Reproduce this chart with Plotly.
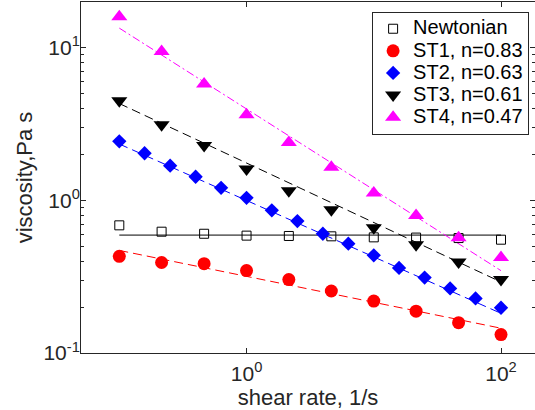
import numpy as np
import plotly.graph_objects as go

# ---- data ----
shear_rate_a = [0.1, 0.215, 0.464, 1.0, 2.15, 4.64, 10.0, 21.5, 46.4, 100.0]
shear_rate_b = [0.1, 0.158, 0.251, 0.398, 0.631, 1.0, 1.58, 2.51, 3.98, 6.31,
                10.0, 15.8, 25.1, 39.8, 63.1, 100.0]

newtonian = [0.687, 0.624, 0.605, 0.588, 0.585, 0.582, 0.573, 0.571, 0.567, 0.553]
st1 = [0.430, 0.392, 0.385, 0.347, 0.303, 0.255, 0.219, 0.188, 0.158, 0.132]
st2 = [2.44, 2.04, 1.69, 1.43, 1.21, 1.04, 0.861, 0.733, 0.605, 0.521,
       0.437, 0.361, 0.312, 0.265, 0.228, 0.198]
st3 = [4.50, 3.14, 2.29, 1.61, 1.16, 0.869, 0.663, 0.513, 0.395, 0.303]
st4 = [16.0, 9.46, 5.79, 3.65, 2.40, 1.65, 1.12, 0.798, 0.570, 0.422]

newtonian_viscosity_fit = 0.593
flow_index = [0.83, 0.63, 0.61, 0.47]          # n for ST1..ST4
consistency = [0.318, 1.00, 1.76, 3.98]        # K (Pa s^n) for ST1..ST4
fit_range = [0.1, 100.0]

legend_names = ["Newtonian", "ST1, n=0.83", "ST2, n=0.63", "ST3, n=0.61", "ST4, n=0.47"]
x_tick_vals = [1, 100]
x_tick_text = ["10<sup>0</sup>", "10<sup>2</sup>"]
y_tick_vals = [0.1, 1, 10]
y_tick_text = ["10<sup>-1</sup>", "10<sup>0</sup>", "10<sup>1</sup>"]

# ---- styling ----
FONT = "Liberation Sans, Arial, Helvetica, sans-serif"
AX = "#262626"
colors = ["black", "#FF0000", "#0000FF", "black", "#FF00FF"]
symbols = ["square-open", "circle", "diamond", "triangle-down", "triangle-up"]
sizes = [9, 13, 11, 14, 14]
dashes = ["9px,5px", "9px,5px", "9px,5px", "8px,3px,2px,3px"]

fig = go.Figure()

# fit lines (not in legend)
xf = np.array(fit_range)
fig.add_trace(go.Scatter(x=xf, y=[newtonian_viscosity_fit] * 2, mode="lines",
                         line=dict(color="black", width=1), showlegend=False,
                         hoverinfo="skip"))
for i in range(4):
    yf = consistency[i] * xf ** (flow_index[i] - 1)
    fig.add_trace(go.Scatter(x=xf, y=yf, mode="lines",
                             line=dict(color=colors[i + 1], width=1, dash=dashes[i]),
                             showlegend=False, hoverinfo="skip"))

# data markers
series = [(shear_rate_a, newtonian), (shear_rate_a, st1), (shear_rate_b, st2),
          (shear_rate_a, st3), (shear_rate_a, st4)]
for i, (xs, ys) in enumerate(series):
    marker = dict(symbol=symbols[i], size=sizes[i], color=colors[i])
    if i == 0:
        marker["line"] = dict(color="black", width=1)
    else:
        marker["line"] = dict(width=0)
    fig.add_trace(go.Scatter(x=xs, y=ys, mode="markers",
                             name='<span style="font-size:20px">%s</span>' % legend_names[i],
                             marker=marker))

minor_y = [m * 10.0 ** e for e in (-1, 0, 1) for m in range(2, 10)]

axis_common = dict(
    showline=True, linecolor=AX, linewidth=1, mirror="ticks",
    ticks="inside", ticklen=5, tickcolor=AX, tickwidth=1,
    showgrid=False, zeroline=False, automargin=False,
    tickfont=dict(family=FONT, size=21, color=AX),
)

fig.update_layout(
    width=535, height=410,
    margin=dict(l=81, r=0, t=2, b=57, autoexpand=False),
    paper_bgcolor="white", plot_bgcolor="white",
    font=dict(family=FONT, color=AX),
    xaxis=dict(type="log", range=[np.log10(0.05), np.log10(185)],
               tickmode="array", tickvals=x_tick_vals, ticktext=x_tick_text,
               ticklabelstandoff=2,
               title=dict(text="shear rate, 1/s", font=dict(family=FONT, size=22, color=AX),
                          standoff=10),
               **axis_common),
    yaxis=dict(type="log", range=[-1, np.log10(20)],
               tickmode="array", tickvals=y_tick_vals, ticktext=y_tick_text,
               ticklabelstandoff=-4,
               minor=dict(tickmode="array", tickvals=minor_y, ticks="inside",
                          ticklen=3, tickcolor=AX, showgrid=False),
               title=dict(text="viscosity,Pa s", font=dict(family=FONT, size=22, color=AX),
                          standoff=4),
               **axis_common),
    legend=dict(x=0.987, y=0.9724, xanchor="right", yanchor="top",
                bgcolor="white", bordercolor=AX, borderwidth=1,
                font=dict(family=FONT, size=14.7, color="black"),
                itemwidth=30, tracegroupgap=0),
    showlegend=True,
)

fig.write_html("out.html", config={"displayModeBar": False},
               post_script="document.body.style.margin='0';document.body.style.overflow='hidden';")
